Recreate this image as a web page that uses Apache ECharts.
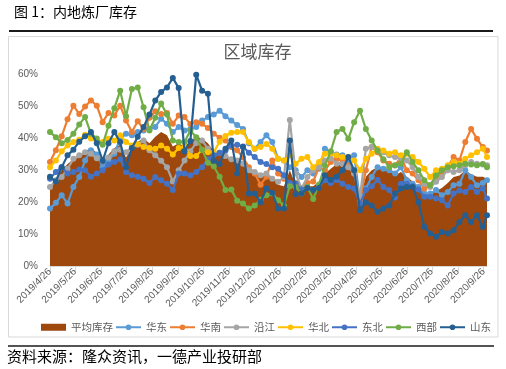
<!DOCTYPE html>
<html><head><meta charset="utf-8">
<script src="https://cdn.jsdelivr.net/npm/echarts@6/dist/echarts.min.js"></script>
<style>html,body{margin:0;padding:0;background:#fff}#c{width:506px;height:369px}</style>
</head><body><div id="c"></div>
<script>
// weekly observation dates
const dates = [
 '2019-04-26','2019-05-03','2019-05-10','2019-05-17','2019-05-24','2019-05-31','2019-06-07','2019-06-14','2019-06-21','2019-06-28',
 '2019-07-05','2019-07-12','2019-07-19','2019-07-26','2019-08-02','2019-08-09','2019-08-16','2019-08-23','2019-08-30','2019-09-06',
 '2019-09-13','2019-09-20','2019-09-27','2019-10-04','2019-10-11','2019-10-18','2019-10-25','2019-11-01','2019-11-08','2019-11-15',
 '2019-11-22','2019-11-29','2019-12-06','2019-12-13','2019-12-20','2019-12-27','2020-01-03','2020-01-10','2020-01-17','2020-01-24',
 '2020-01-31','2020-02-07','2020-02-14','2020-02-21','2020-02-28','2020-03-06','2020-03-13','2020-03-20','2020-03-27','2020-04-03',
 '2020-04-10','2020-04-17','2020-04-24','2020-05-01','2020-05-08','2020-05-15','2020-05-22','2020-05-29','2020-06-05','2020-06-12',
 '2020-06-19','2020-06-26','2020-07-03','2020-07-10','2020-07-17','2020-07-24','2020-07-31','2020-08-07','2020-08-14','2020-08-21',
 '2020-08-28','2020-09-04','2020-09-11','2020-09-18','2020-09-25','2020-09-30'
];
const tickLabels = ['2019/4/26','2019/5/26','2019/6/26','2019/7/26','2019/8/26','2019/9/26','2019/10/26','2019/11/26','2019/12/26',
 '2020/1/26','2020/2/26','2020/3/26','2020/4/26','2020/5/26','2020/6/26','2020/7/26','2020/8/26','2020/9/26'];

const avgInv = [24.5,27,30,32,33.5,34,36,37,35.5,33, 35,37,38,34,37,39,40,38.5,40.5,42, 41,37.5,38.5,37.5,39,40.5,40,38.5,36,35.5,
 34.5,33.5,33,32,29.5,29,28,28.5,28,25.5, 25,30,25.5,24.3,25,25,26.5,29,30.5,32, 33,32.5,30,21.5,28,30,31,31,30,28.5,
 29.5,28,26.5,25,23,22.7,23.5,24.5,26,27.9, 28.4,30,28.8,28,28,27.4];
const east = [18,19.8,22.2,19.6,24.8,27.9,33.1,36.3,35,31, 33.1,35.2,40,41.5,41,42,42.5,43,43.6,46.2, 44.6,42,43.6,42.5,43,43.6,45.6,46.7,47.5,48.7,
 47,45.6,44.2,43,38.5,36.8,38.9,41,38.9,33.6, 33.1,31,30,27.9,30,29,30.5,36.8,35.7,35, 34.7,33,34.7,20.6,24.3,27.9,31,30.5,30,29,
 31,26.9,25.8,24.8,22.7,22.7,23.8,22.2,23.2,25.3, 25.8,30,27.9,25.3,26,26.9];
const south = [32.6,36.3,40.7,46,50.3,47.7,50,51.9,50.3,45.1, 48,47.2,50.3,45.6,42,45.4,43,46.5,48.5,47.7, 48,44.6,47.2,46.7,44.5,45.1,44.6,43.3,41.5,40.2,
 39.4,37.3,36.3,34,31,29,25.5,28,33.1,29, 27.4,25.5,26,24.5,26,26.5,31,30,32.6,33.6, 33.1,31.5,29,20.6,30,37.3,35.7,33.1,32.1,31.5,
 34.2,30,29,26.9,24.3,25.3,28,29,31,34.2, 33.1,38.9,43,39.9,37.3,36.2];
const river = [24.8,26.9,27.9,30.5,33.6,34.7,35.7,35.2,33.8,33.1, 34,36,36.5,35.7,37.3,38,39.4,36.3,34.7,33, 31,26.5,30,33.1,36,38.6,39.4,36.8,35,35.5,
 34.5,33.5,33.1,32.1,30,29.5,28.5,29,27.4,26.4, 27.9,45.8,29,24.3,27.9,30,31,33.1,33.8,32.1, 32,31,29,21.7,36.8,37.3,36.3,35.7,34.7,34.2,
 33.6,33.1,31,27.9,25.8,24.8,26.4,27.9,30,29.5, 30,31.6,32.6,32.1,31.8,31.6];
const north = [31,33.1,36,37.8,38.9,39.6,41.2,40,38.9,38.9, 39.9,39.4,41,38.9,37.8,38.3,37.3,37,36.8,37.8, 36.8,35,37,37.5,34.5,34.5,36.5,35.7,35.7,39,
 40.8,41.8,42,42,38.9,36.8,37.3,38.3,36.8,33.6, 33.1,34.7,32.1,33.6,34.2,31,32.6,35.2,35.3,34.7, 34.2,34.2,33.1,30,33.6,35.2,36.8,36.2,35.2,35.7,
 34.7,35.2,34.2,32.6,30.5,27.9,30,30.5,31.6,32.6, 32.1,33.6,34.7,35.7,36.8,34.2];
const northeast = [27.4,29.5,31,29,29.5,30.3,30,28,29,30, 31.8,32.6,33.5,29.5,28.5,28,27.4,26,27.9,26.9, 25.8,23.8,29,29,28.5,29.5,31,33.5,34.7,35.5,
 36.2,37.8,38,37.5,35.5,34.2,32.6,32,31,30.5, 28.5,26,25.8,24,24.5,23.8,25,26.9,26,27, 25.8,24.8,24.3,19.6,23.8,25,27,24.8,23.8,21.5,
 25.8,25.8,25,24,21.7,21.7,21.2,20.6,19,22.7, 23.7,23.2,24.8,23.2,24.3,21.2];
const west = [42,40.4,38.5,39.5,41.5,44.4,46.7,41.5,40,38, 44,49.5,55,47,55.5,56,49.8,42.5,46.5,51, 47.5,39.4,38.9,38.9,42.5,40.4,36.5,32.4,31.3,28,
 23.8,24,20.5,19.6,18,19,20.8,22.2,22.7,20.6, 19,25,24.8,22.7,24.8,21,25.6,31.5,36,42, 43,39.9,45.1,48.7,43,39.4,36.2,33.5,31,31.6,
 32.1,35.7,32.6,30,26.9,25.3,28.4,30,31,31.3, 31.6,32.1,31.8,31.6,32,31];
const shandong = [28,26.5,31,34.7,36.5,39,40.7,42,38.5,33, 38.5,42,38.9,31,37,40.5,43.6,47.5,51.9,54.6, 56,59,55.8,36,39.2,60,55,54,33,32,
 36.8,39.4,29,37.3,22.7,22.7,20,24.3,23,18, 18,39.4,22.5,22.7,24.5,23.8,24.5,28.5,27,28, 30,34.2,30,17.5,20,19,17,18,19,22.7,
 24.3,24.8,24.8,20,12.3,10.2,9.2,10.7,10.2,11.2, 13.8,15.9,13.8,15.9,12.3,15.9];

const seriesNames = ['平均库存','华东','华南','沿江','华北','东北','西部','山东'];
const seriesColors = ['#9E480E','#5B9BD5','#ED7D31','#A5A5A5','#FFC000','#4472C4','#70AD47','#255E91'];
const seriesData = [avgInv, east, south, river, north, northeast, west, shandong];

const DAY = 86400000;
function ts(s){const p=s.split(/[-\/]/).map(Number);return Date.UTC(p[0],p[1]-1,p[2]);}
const T0 = ts(dates[0]);
function dayOff(s){return Math.round((ts(s)-T0)/DAY);}
const tickVals = tickLabels.map(dayOff);
function pairs(arr){return arr.map((v,i)=>[dayOff(dates[i]), v]);}
const FONT = '"Liberation Sans","Noto Sans CJK SC",sans-serif';
const CJK = '"Noto Sans CJK SC",sans-serif';

const series = seriesData.map((arr, k) => {
  if (k === 0) {
    return {name: seriesNames[0], type:'line', data: pairs(arr), symbol:'none', showSymbol:false,
      lineStyle:{width:0}, itemStyle:{color: seriesColors[0]},
      areaStyle:{color: seriesColors[0], opacity:1}, z:1};
  }
  return {name: seriesNames[k], type:'line', data: pairs(arr), symbol:'circle', symbolSize:6,
    showAllSymbol:true, lineStyle:{width:2.2, color: seriesColors[k]}, itemStyle:{color: seriesColors[k]}, z: 2+k};
});

const chart = echarts.init(document.getElementById('c'), null, {renderer:'canvas'});
chart.setOption({
  animation:false,
  grid:{left:50, right:19, top:74.7, bottom:103, containLabel:false},
  xAxis:{type:'value', min: 0, max: dayOff(dates[dates.length-1]),
    axisLine:{show:true, onZero:false, lineStyle:{color:'#D9D9D9', width:1}},
    axisTick:{show:true, customValues: tickVals, length:5, lineStyle:{color:'#D9D9D9'}},
    axisLabel:{customValues: tickVals, rotate:45, margin:4, fontSize:10, color:'#595959', fontFamily: FONT,
      formatter:function(v){const d=new Date(T0 + v*DAY);return d.getUTCFullYear()+'/'+(d.getUTCMonth()+1)+'/'+d.getUTCDate();}},
    splitLine:{show:false}},
  yAxis:{type:'value', min:0, max:60, interval:10,
    axisLine:{show:false}, axisTick:{show:false}, splitLine:{show:false},
    axisLabel:{formatter:'{value}%', fontSize:10, color:'#595959', margin:12, fontFamily: FONT}},
  legend:{left:36, top:317, itemWidth:25, itemHeight:7, itemGap:2,
    textStyle:{fontSize:10.5, color:'#595959', fontFamily: CJK},
    data: seriesNames.map((n,k)=> k===0 ? {name:n, icon:'rect'} : n)},
  graphic:[
    {type:'text', x:14, y:12, style:{text:'图 1：内地炼厂库存', font:'14px '+CJK, fill:'#000', textVerticalAlign:'middle'}},
    {type:'line', shape:{x1:9, y1:31, x2:493, y2:31}, style:{stroke:'#1a1a1a', lineWidth:2}},
    {type:'rect', shape:{x:8.5, y:36.5, width:489.5, height:300.5}, style:{stroke:'#D9D9D9', fill:'none', lineWidth:1}},
    {type:'text', x:257.5, y:52, style:{text:'区域库存', font:'17px '+CJK, fill:'#595959', textAlign:'center', textVerticalAlign:'middle'}},
    {type:'line', shape:{x1:8, y1:346, x2:494, y2:346}, style:{stroke:'#1a1a1a', lineWidth:1.5}},
    {type:'text', x:7, y:356, style:{text:'资料来源：隆众资讯，一德产业投研部', font:'15px '+CJK, fill:'#000', textVerticalAlign:'middle'}}
  ],
  series: series
});
</script></body></html>
